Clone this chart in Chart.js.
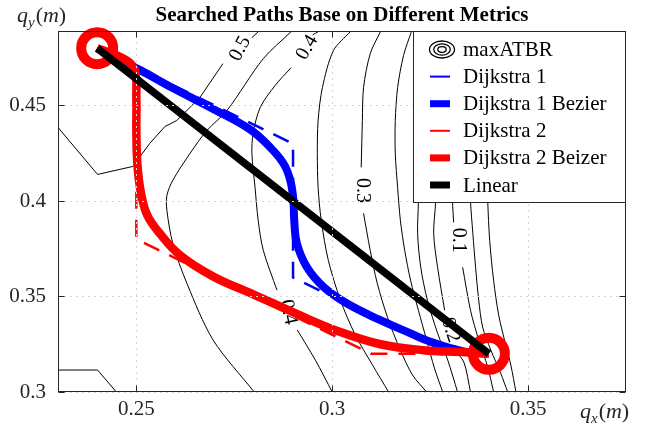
<!DOCTYPE html>
<html>
<head>
<meta charset="utf-8">
<script src="https://cdn.jsdelivr.net/npm/chart.js@4.4.0/dist/chart.umd.min.js"></script>
<style>
  html, body { margin: 0; padding: 0; background: #fff; }
  #wrap { width: 663px; height: 432px; }
</style>
</head>
<body>
<div id="wrap"><canvas id="chart" width="663" height="432"></canvas></div>
<script>
// axis ticks
var xTicks = [0.25, 0.3, 0.35];
var yTicks = [0.3, 0.35, 0.4, 0.45];

// start / goal (red rings)
var endsX = [0.24, 0.34];
var endsY = [0.48, 0.32];

// grid paths found by Dijkstra
var dijkstra1X = [0.24, 0.29, 0.29, 0.33, 0.34];
var dijkstra1Y = [0.48, 0.43, 0.36, 0.32, 0.32];
var dijkstra2X = [0.24, 0.25, 0.25, 0.31, 0.34];
var dijkstra2Y = [0.48, 0.47, 0.38, 0.32, 0.32];

// smoothed paths
var bezier1X = [0.24, 0.251, 0.2594, 0.2696, 0.279, 0.2841, 0.2876, 0.2893, 0.2901, 0.2903, 0.291, 0.2935, 0.2978, 0.3038, 0.3123, 0.32, 0.3251, 0.333, 0.34];
var bezier1Y = [0.48, 0.4685, 0.459, 0.4482, 0.4375, 0.4282, 0.4195, 0.4108, 0.4003, 0.39, 0.3777, 0.3655, 0.355, 0.3463, 0.3376, 0.3307, 0.3263, 0.3215, 0.32];
var bezier2X = [0.24, 0.2465, 0.2495, 0.25, 0.25, 0.2503, 0.2512, 0.2528, 0.2558, 0.2611, 0.2696, 0.28, 0.2908, 0.301, 0.3123, 0.3232, 0.334, 0.34];
var bezier2Y = [0.48, 0.4748, 0.469, 0.4535, 0.436, 0.4184, 0.404, 0.3925, 0.3835, 0.3717, 0.3605, 0.351, 0.341, 0.3322, 0.325, 0.3219, 0.3208, 0.32];

// straight line
var linearX = [0.24, 0.34];
var linearY = [0.48, 0.32];

// maxATBR contour lines, [x, y] pairs
var contourA = [[0.23, 0.3115], [0.2401, 0.3115], [0.2449, 0.30]];
var contourB1 = [[0.23, 0.4385], [0.2401, 0.4139], [0.2491, 0.4181], [0.2534, 0.4301], [0.2573, 0.439], [0.2603, 0.4421], [0.2662, 0.4541], [0.2721, 0.4719]];
var contourB2 = [[0.2795, 0.4855], [0.2811, 0.4886]];
var contourC = [[0.2801, 0.30], [0.2696, 0.3272], [0.2629, 0.3569], [0.2593, 0.3778], [0.2578, 0.3951], [0.2578, 0.4029], [0.2593, 0.4108], [0.2637, 0.4249], [0.268, 0.4369], [0.2731, 0.4473], [0.2824, 0.4745], [0.2895, 0.4886]];
var contourD1 = [[0.30, 0.30], [0.2957, 0.3167], [0.2911, 0.3324]];
var contourD2 = [[0.2859, 0.3533], [0.2824, 0.3742], [0.2811, 0.3899], [0.2803, 0.4071], [0.2795, 0.4249], [0.2798, 0.4353], [0.2816, 0.4489], [0.2854, 0.4604], [0.2895, 0.4698]];
var contourD3 = [[0.295, 0.487], [0.2964, 0.4886]];
var contourE = [[0.3046, 0.4886], [0.3003, 0.4787], [0.2975, 0.4594], [0.2964, 0.4421], [0.2962, 0.4249], [0.2964, 0.4071], [0.2972, 0.3899], [0.299, 0.369], [0.3021, 0.3481], [0.3059, 0.3298], [0.3103, 0.3141], [0.3144, 0.30]];
var contourF1 = [[0.3123, 0.4886], [0.3097, 0.4771], [0.308, 0.4594], [0.3077, 0.4421], [0.3074, 0.4176]];
var contourF2 = [[0.308, 0.3935], [0.3097, 0.3742], [0.3115, 0.3569], [0.3141, 0.3392], [0.3174, 0.3219], [0.3205, 0.3089], [0.3241, 0.30]];
var contourG = [[0.3202, 0.4886], [0.3182, 0.4761], [0.3167, 0.4594], [0.3161, 0.4421], [0.3161, 0.4249], [0.3167, 0.4071], [0.3174, 0.3899], [0.3185, 0.3742], [0.32, 0.3585], [0.322, 0.3428], [0.3241, 0.3272], [0.3261, 0.3125], [0.3282, 0.30]];
var contourH = [[0.3246, 0.4886], [0.3228, 0.4735], [0.322, 0.4526], [0.3218, 0.4264], [0.322, 0.4003], [0.3218, 0.3831], [0.3226, 0.3653], [0.3243, 0.3481], [0.3269, 0.3308], [0.3295, 0.3167], [0.332, 0.30]];
var contourI1 = [[0.329, 0.4886], [0.3272, 0.4735], [0.3264, 0.4526], [0.3261, 0.4264], [0.3264, 0.4003], [0.3259, 0.3831], [0.3269, 0.3653], [0.3287, 0.3428]];
var contourI2 = [[0.3312, 0.3219], [0.3336, 0.3157], [0.3353, 0.30]];
var contourJ1 = [[0.3333, 0.4886], [0.3315, 0.4735], [0.3307, 0.4526], [0.3305, 0.4264], [0.3307, 0.4003], [0.331, 0.3888]];
var contourJ2 = [[0.3333, 0.3653], [0.3353, 0.3428], [0.3374, 0.3272], [0.3397, 0.3131], [0.3412, 0.30]];
var contourK = [[0.3379, 0.4886], [0.3361, 0.4735], [0.3353, 0.4526], [0.3351, 0.4264], [0.3353, 0.4003], [0.3359, 0.3831], [0.3366, 0.3653], [0.3374, 0.3481], [0.3384, 0.334], [0.3405, 0.3219], [0.343, 0.3099], [0.3448, 0.30]];
var contourL = [[0.3423, 0.4886], [0.3405, 0.4735], [0.3397, 0.4526], [0.3394, 0.4264], [0.3397, 0.4003], [0.3402, 0.3794], [0.3412, 0.3585], [0.3425, 0.3402], [0.3443, 0.3246], [0.3456, 0.3141], [0.3469, 0.30]];

var polyContours = [contourA, contourB1, contourB2];
var curvedContours = [contourC, contourD1, contourD2, contourD3, contourE, contourF1, contourF2, contourG, contourH, contourI1, contourI2, contourJ1, contourJ2, contourK, contourL];

// contour level labels
var levelText = ['0.5', '0.4', '0.3', '0.1', '0.2', '0.4'];
var levelX = [0.2765, 0.2936, 0.3077, 0.3323, 0.3302, 0.2888];
var levelY = [0.4797, 0.4803, 0.4055, 0.3794, 0.3324, 0.3418];
var levelAngle = [-62, -60, 90, 90, 72, 78];

var SERIF = '"Liberation Serif", "Times New Roman", serif';
var INK = '#262626';
Chart.defaults.font.family = SERIF;

function pts(xs, ys) {
  return xs.map(function (x, i) { return { x: x, y: ys[i] }; });
}
function pairs(list) {
  return list.map(function (p) { return { x: p[0], y: p[1] }; });
}

var datasets = [];
polyContours.concat(curvedContours).forEach(function (c, i) {
  datasets.push({
    data: pairs(c),
    showLine: true,
    borderColor: '#000',
    borderWidth: 1,
    pointRadius: 0,
    tension: polyContours.indexOf(c) >= 0 ? 0 : 0.3,
    order: 20,
    legendText: i === 0 ? 'maxATBR' : null,
    legendIcon: 'contour'
  });
});
datasets.push({
  label: 'Dijkstra 1', legendText: 'Dijkstra 1', data: pts(dijkstra1X, dijkstra1Y), showLine: true,
  borderColor: '#0000ff', borderWidth: 2.5, borderDash: [17, 11], pointRadius: 0, order: 6, legendWidth: 2
});
datasets.push({
  label: 'Dijkstra 1 Bezier', legendText: 'Dijkstra 1 Bezier', data: pts(bezier1X, bezier1Y), showLine: true,
  borderColor: '#0000ff', borderWidth: 8, pointRadius: 0, tension: 0.4, order: 5, legendWidth: 7
});
datasets.push({
  label: 'Dijkstra 2', legendText: 'Dijkstra 2', data: pts(dijkstra2X, dijkstra2Y), showLine: true,
  borderColor: '#ff0000', borderWidth: 2.5, borderDash: [17, 11], pointRadius: 0, order: 3, legendWidth: 2
});
datasets.push({
  label: 'Dijkstra 2 Beizer', legendText: 'Dijkstra 2 Beizer', data: pts(bezier2X, bezier2Y), showLine: true,
  borderColor: '#ff0000', borderWidth: 8.5, pointRadius: 0, tension: 0.4, order: 4, legendWidth: 7
});
datasets.push({
  label: 'Linear', legendText: 'Linear', data: pts(linearX, linearY), showLine: true,
  borderColor: '#000', borderWidth: 7.5, pointRadius: 0, order: 0, legendWidth: 7
});
datasets.push({
  label: 'ends', data: pts(endsX, endsY), showLine: false,
  pointRadius: 16, pointBorderWidth: 10, pointBorderColor: '#ff0000',
  pointBackgroundColor: 'rgba(0,0,0,0)', order: 1, clip: false
});

function drawQ(ctx, x, base, sub) {
  ctx.textAlign = 'left';
  ctx.textBaseline = 'alphabetic';
  ctx.font = 'italic 22px ' + SERIF;
  ctx.fillText('q', x, base);
  x += ctx.measureText('q').width;
  ctx.font = 'italic 15px ' + SERIF;
  ctx.fillText(sub, x, base + 5);
  x += ctx.measureText(sub).width + 1;
  ctx.font = '22px ' + SERIF;
  ctx.fillText('(', x, base);
  x += ctx.measureText('(').width;
  ctx.font = 'italic 22px ' + SERIF;
  ctx.fillText('m', x, base);
  x += ctx.measureText('m').width;
  ctx.font = '22px ' + SERIF;
  ctx.fillText(')', x, base);
}

var decor = {
  id: 'decor',
  beforeDatasetsDraw: function (chart) {
    var ctx = chart.ctx, xs = chart.scales.x, ys = chart.scales.y;
    ctx.save();
    ctx.font = '20px ' + SERIF;
    ctx.fillStyle = '#000';
    ctx.textAlign = 'center';
    ctx.textBaseline = 'middle';
    for (var i = 0; i < levelText.length; i++) {
      ctx.save();
      ctx.translate(xs.getPixelForValue(levelX[i]), ys.getPixelForValue(levelY[i]));
      ctx.rotate(levelAngle[i] * Math.PI / 180);
      ctx.fillText(levelText[i], 0, 0);
      ctx.restore();
    }
    ctx.restore();
  },
  afterDatasetsDraw: function (chart) {
    var ctx = chart.ctx, a = chart.chartArea, xs = chart.scales.x, ys = chart.scales.y;
    ctx.save();
    // dotted grid drawn over the data
    ctx.strokeStyle = '#d6d6d6';
    ctx.lineWidth = 1;
    ctx.setLineDash([2, 4]);
    xTicks.forEach(function (v) {
      var p = Math.round(xs.getPixelForValue(v)) + 0.5;
      ctx.beginPath(); ctx.moveTo(p, a.bottom); ctx.lineTo(p, a.top); ctx.stroke();
    });
    yTicks.forEach(function (v) {
      var p = Math.round(ys.getPixelForValue(v)) + 0.5;
      ctx.beginPath(); ctx.moveTo(a.left, p); ctx.lineTo(a.right, p); ctx.stroke();
    });
    ctx.setLineDash([]);
    // box and inward ticks
    ctx.strokeStyle = INK;
    ctx.lineWidth = 1;
    var L = Math.round(a.left) + 0.5, R = Math.round(a.right) - 0.5, T = Math.round(a.top) + 0.5, B = Math.round(a.bottom) - 0.5;
    ctx.strokeRect(L, T, R - L, B - T);
    ctx.beginPath();
    xTicks.forEach(function (v) {
      var p = Math.round(xs.getPixelForValue(v)) + 0.5;
      ctx.moveTo(p, B); ctx.lineTo(p, B - 6);
      ctx.moveTo(p, T); ctx.lineTo(p, T + 6);
    });
    yTicks.forEach(function (v) {
      var p = Math.round(ys.getPixelForValue(v)) + 0.5;
      ctx.moveTo(L, p); ctx.lineTo(L + 6, p);
      ctx.moveTo(R, p); ctx.lineTo(R - 6, p);
    });
    ctx.stroke();
    ctx.restore();
  },
  afterDraw: function (chart) {
    var ctx = chart.ctx, a = chart.chartArea;
    ctx.save();
    // legend box inside the top right corner
    var items = chart.data.datasets.filter(function (d) { return d.legendText; });
    var bx = 413.5, by = Math.round(a.top) + 0.5, bw = Math.round(a.right) - 0.5 - bx, bh = 171;
    ctx.fillStyle = '#fff';
    ctx.fillRect(bx, by, bw, bh);
    ctx.strokeStyle = INK;
    ctx.lineWidth = 1;
    ctx.strokeRect(bx, by, bw, bh);
    items.forEach(function (d, i) {
      var cy = by + 18 + i * 27.1;
      if (d.legendIcon === 'contour') {
        ctx.strokeStyle = '#000';
        ctx.lineWidth = 1.3;
        [[12.5, 8.5], [8.3, 5.6], [4.2, 2.8]].forEach(function (r) {
          ctx.beginPath(); ctx.ellipse(442, cy, r[0], r[1], 0, 0, Math.PI * 2); ctx.stroke();
        });
      } else {
        ctx.strokeStyle = d.borderColor;
        ctx.lineWidth = d.legendWidth;
        ctx.beginPath(); ctx.moveTo(430, cy); ctx.lineTo(450, cy); ctx.stroke();
      }
      ctx.fillStyle = '#000';
      ctx.font = '21px ' + SERIF;
      ctx.textAlign = 'left';
      ctx.textBaseline = 'middle';
      ctx.fillText(d.legendText, 463, cy + 1);
    });
    // title
    ctx.fillStyle = '#000';
    ctx.font = 'bold 21px ' + SERIF;
    ctx.textAlign = 'center';
    ctx.textBaseline = 'alphabetic';
    ctx.fillText('Searched Paths Base on Different Metrics', (a.left + a.right) / 2, 21);
    // axis labels
    ctx.fillStyle = INK;
    drawQ(ctx, 17, 22, 'y');
    drawQ(ctx, 580, 418, 'x');
    ctx.restore();
  }
};

var chart = new Chart(document.getElementById('chart'), {
  type: 'scatter',
  data: { datasets: datasets },
  options: {
    responsive: false,
    animation: false,
    devicePixelRatio: 1,
    layout: { padding: { top: 31, right: 37, left: 0, bottom: 0 } },
    plugins: { legend: { display: false }, tooltip: { enabled: false } },
    scales: {
      x: {
        type: 'linear', min: 0.23, max: 0.375,
        afterBuildTicks: function (s) { s.ticks = xTicks.map(function (v) { return { value: v }; }); },
        afterFit: function (s) { s.height = 40; },
        grid: { display: false, drawTicks: false },
        border: { display: false },
        ticks: {
          font: { family: SERIF, size: 21 }, color: INK, padding: 5, maxRotation: 0,
          callback: function (v) { return String(v); }
        }
      },
      y: {
        type: 'linear', min: 0.3, max: 0.489,
        afterBuildTicks: function (s) { s.ticks = yTicks.map(function (v) { return { value: v }; }); },
        afterFit: function (s) { s.width = 58; },
        grid: { display: false, drawTicks: false },
        border: { display: false },
        ticks: {
          font: { family: SERIF, size: 21 }, color: INK, padding: 12,
          callback: function (v) { return String(v); }
        }
      }
    }
  },
  plugins: [decor]
});
</script>
</body>
</html>
